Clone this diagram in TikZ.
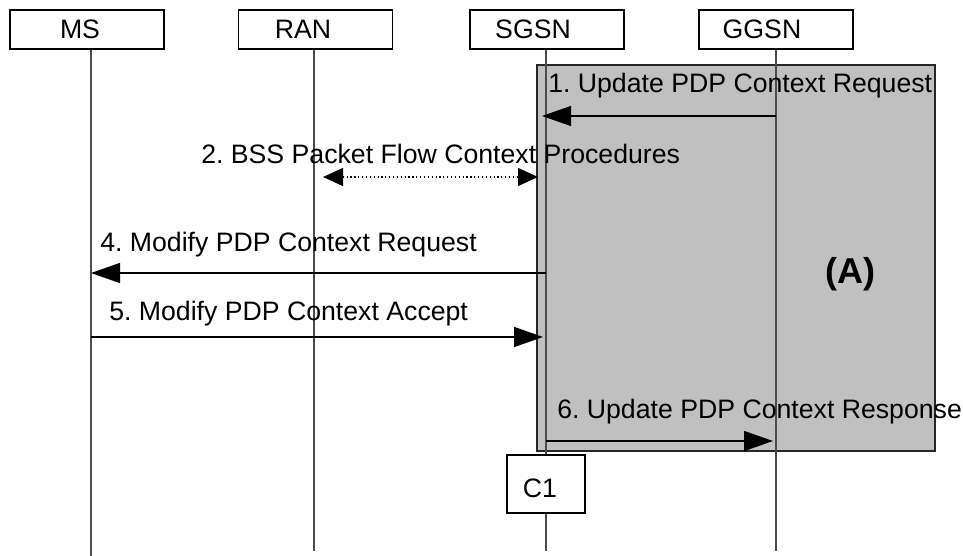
\documentclass[tikz,border=0pt]{standalone}
\usepackage{fontspec}
\setmainfont{Liberation Sans}
\usetikzlibrary{arrows.meta}
\definecolor{boxgray}{RGB}{192,192,192}
\frenchspacing
\begin{document}
\begin{tikzpicture}[x=0.75pt,y=-0.75pt,
  headbox/.style={draw, line width=1pt, minimum width=115.5pt, minimum height=29.25pt, inner sep=0pt},
  lbl/.style={font=\fontsize{20}{24}\selectfont, inner sep=0pt, anchor=base west},
  hlbl/.style={font=\fontsize{20}{24}\selectfont, inner sep=0pt, anchor=base},
  life/.style={draw=black!70, line width=0.8pt},
  msg/.style={line width=1.1pt, -{Triangle[length=21.75pt,width=15pt]}},
  dmsg/.style={line width=0.9pt, dotted, {Triangle[length=15pt,width=13.5pt]}-{Triangle[length=15pt,width=13.5pt]}},
  areabox/.style={draw=black!85, fill=boxgray, line width=1.5pt, minimum width=298.5pt, minimum height=289.5pt, inner sep=0pt},
  cbox/.style={draw, fill=white, line width=1pt, minimum width=58.5pt, minimum height=43.5pt, inner sep=0pt}]
\useasboundingbox (0,0) rectangle (963,556);
% area (A)
\node[areabox] (area) at (736,258) {};
% head boxes
\node[headbox] (ms) at (87,29.5) {};
\node[headbox] (ran) at (315.5,29.5) {};
\node[headbox] (sgsn) at (547,29.5) {};
\node[headbox] (ggsn) at (776,29.5) {};
\node[hlbl] (msl) at (80,39) {MS};
\node[hlbl] (ranl) at (303,39) {RAN};
\node[hlbl] (sgsnl) at (533,39) {SGSN};
\node[hlbl] (ggsnl) at (762,39) {GGSN};
% lifelines
\coordinate (msb) at (91,556);
\coordinate (ranb) at (314,551);
\coordinate (sgsnb) at (546,551);
\coordinate (ggsnb) at (776,551);
\draw[life] (ms.south -| msb) -- (msb);
\draw[life] (ran.south -| ranb) -- (ranb);
\draw[life] (sgsn.south -| sgsnb) -- (sgsnb);
\draw[life] (ggsn.south -| ggsnb) -- (ggsnb);
% messages
\coordinate (g1) at (776,116); \coordinate (s1) at (542,116);
\draw[msg] (g1) -- (s1);
\node[lbl] (t1) at (548,93) {1. Update PDP Context Request};
\coordinate (r2) at (323,177); \coordinate (s2) at (538,177);
\draw[dmsg] (r2) -- (s2);
\node[lbl] (t2) at (201,163) {2. BSS Packet Flow Context Procedures};
\coordinate (s4) at (546,273); \coordinate (m4) at (91,273);
\draw[msg] (s4) -- (m4);
\node[lbl] (t4) at (100,251) {4. Modify PDP Context Request};
\coordinate (m5) at (91,337); \coordinate (s5) at (543,337);
\draw[msg] (m5) -- (s5);
\node[lbl] (t5) at (109,320) {5. Modify PDP Context Accept};
\coordinate (s6) at (546,441); \coordinate (g6) at (773,441);
\draw[msg] (s6) -- (g6);
\node[lbl] (t6) at (557,418) {6. Update PDP Context Response};
\node[font=\bfseries\fontsize{27}{31}\selectfont, inner sep=0pt, anchor=base] (alabel) at (850,283) {(A)};
% C1
\node[cbox] (c1) at (546,484) {};
\node[hlbl] (c1l) at (540,497) {C1};
\end{tikzpicture}
\end{document}
